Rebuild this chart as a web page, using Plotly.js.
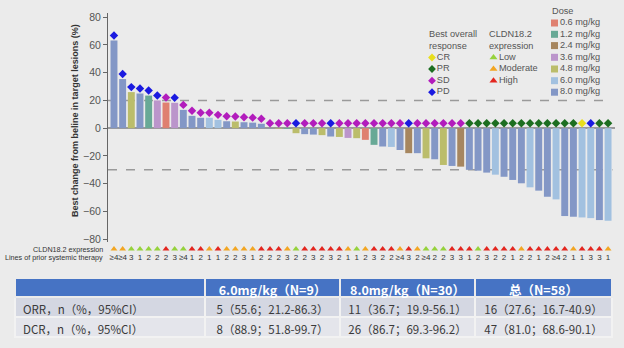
<!DOCTYPE html>
<html><head><meta charset="utf-8">
<script src="https://cdn.plot.ly/plotly-3.0.1.min.js"></script>
<style>html,body{margin:0;padding:0;background:#ebebeb;}#chart{width:624px;height:348px;}</style>
</head><body><div id="chart"></div>
<script>
// ---- data ----
const bestChange = [63.2, 35.4, 26, 25, 23.5, 20, 18.5, 18.3, 13.2, 8.9,
  7.5, 7.5, 6, 5, 4.8, 4.3, 4, 3.2, -0.2, -0.4,
  -0.6, -3.6, -4.3, -4.6, -5, -6, -6.3, -7, -7.2, -8.4,
  -12, -13.2, -13.5, -15.7, -18, -18, -21.7, -22.4, -26.5, -27.2,
  -27.7, -30, -30.6, -32, -33.5, -35, -37.3, -39.7, -42.6, -45,
  -49.4, -51.3, -63.3, -63.8, -64.3, -64.8, -66.2, -66.7];
const doseGroup = ['8.0','8.0','4.8','8.0','1.2','3.6','0.6','3.6','8.0','8.0',
  '8.0','6.0','6.0','8.0','4.8','8.0','8.0','8.0','8.0','4.8',
  '1.2','4.8','8.0','8.0','4.8','8.0','4.8','3.6','4.8','0.6',
  '1.2','8.0','6.0','8.0','2.4','8.0','4.8','8.0','4.8','8.0',
  '2.4','8.0','8.0','8.0','6.0','8.0','8.0','8.0','6.0','8.0',
  '8.0','6.0','8.0','8.0','6.0','6.0','8.0','6.0'];
const bestResponse = ['PD','PD','PD','PD','PD','PD','SD','PD','SD','SD',
  'SD','SD','SD','SD','SD','SD','SD','SD','SD','SD',
  'SD','PD','SD','SD','SD','PD','SD','SD','SD','SD',
  'SD','SD','SD','SD','PD','SD','SD','SD','SD','SD',
  'SD','PR','PR','PR','PR','PR','PR','PR','PR','PR',
  'PR','PR','PR','PR','CR','PD','PR','PR'];
const cldnExpression = ['Moderate','Moderate','Low','Low','Low','Low','High','Low','Low','High',
  'High','Moderate','High','Moderate','Moderate','Moderate','Moderate','High','High','High',
  'Moderate','Low','High','High','High','High','High','Moderate','Low','Moderate',
  'High','High','High','Moderate','High','Moderate','Low','Low','Low','High',
  'High','High','Low','High','High','High','High','Moderate','High','High',
  'High','High','High','Moderate','High','High','High','Moderate'];
const priorLines = ['≥4','≥4','3','1','2','2','2','3','≥4','1',
  '2','1','1','2','2','3','1','2','2','2',
  '3','2','2','3','2','3','2','1','1','2',
  '3','2','2','≥4','3','2','≥4','2','2','3',
  '3','1','2','3','2','2','1','2','2','1',
  '2','≥4','2','1','1','3','3','1'];
const doseLevels = ['0.6','1.2','2.4','3.6','4.8','6.0','8.0'];
const responseLevels = ['CR','PR','SD','PD'];
const cldnLevels = ['Low','Moderate','High'];
const yTicks = [-80,-60,-40,-20,0,20,40,60,80];

const tableHeader = ['', '6.0mg/kg（N=9）', '8.0mg/kg（N=30）', '总（N=58）'];
const rowLabels = ['ORR，n（%，95%CI）', 'DCR，n（%，95%CI）'];
const col60 = ['5（55.6；21.2-86.3）', '8（88.9；51.8-99.7）'];
const col80 = ['11（36.7；19.9-56.1）', '26（86.7；69.3-96.2）'];
const colAll = ['16（27.6；16.7-40.9）', '47（81.0；68.6-90.1）'];

// ---- styles ----
const doseColor = {'0.6':'#df8070','1.2':'#68a996','2.4':'#a6865f','3.6':'#bb95cb','4.8':'#bbbd6b','6.0':'#a2c1e0','8.0':'#8397c6'};
const respColor = {'CR':'#e8de1c','PR':'#1c6e20','SD':'#b21cbc','PD':'#1a1ae0'};
const cldnColor = {'Low':'#96d23c','Moderate':'#f2a623','High':'#e3261f'};
const SANS = '"Liberation Sans", Arial, sans-serif';
const CJK = '"Noto Sans CJK SC", "Noto Sans", sans-serif';
const px2paperX = px => (px - 15) / 600;
const px2paperY = px => (338 - px) / 325;

const patient = bestChange.map((_, i) => i + 1);
const traces = [];

doseLevels.forEach(d => {
  const idx = patient.filter((_, i) => doseGroup[i] === d);
  traces.push({type:'bar', x: idx, y: idx.map(p => bestChange[p-1]), width: 0.8,
    marker:{color: doseColor[d], line:{width:0}}, showlegend:false, hoverinfo:'skip'});
});
responseLevels.forEach(r => {
  const idx = patient.filter((_, i) => bestResponse[i] === r);
  traces.push({type:'scatter', mode:'markers', x: idx, y: idx.map(p => Math.max(bestChange[p-1], 0) + 3.6),
    marker:{symbol:'diamond', size:6.5, color: respColor[r]}, showlegend:false, cliponaxis:false, hoverinfo:'skip'});
});
// annotation rows below the waterfall (own small axis y3: 1.45 = expression row, 0.5 = lines row)
cldnLevels.forEach(c => {
  const idx = patient.filter((_, i) => cldnExpression[i] === c);
  traces.push({type:'scatter', mode:'markers', xaxis:'x', yaxis:'y3', x: idx, y: idx.map(() => 1.45),
    marker:{symbol:'triangle-up', size:6, color: cldnColor[c]}, showlegend:false, cliponaxis:false, hoverinfo:'skip'});
});
traces.push({type:'scatter', mode:'text', xaxis:'x', yaxis:'y3', x: patient, y: patient.map(() => 0.5), text: priorLines,
  textfont:{family: SANS, size:8, color:'#333'}, showlegend:false, cliponaxis:false, hoverinfo:'skip'});

// custom legend keys on pixel-like overlay axes
const legFont = {family: SANS, size:9.2, color:'#555'};
traces.push({type:'scatter', mode:'markers+text', xaxis:'x2', yaxis:'y2',
  x: responseLevels.map(() => 432), y: [57.5, 69, 80.7, 92.2], text: responseLevels, textposition:'middle right',
  marker:{symbol:'diamond', size:6, color: responseLevels.map(r => respColor[r])},
  textfont: legFont, showlegend:false, cliponaxis:false, hoverinfo:'skip'});
traces.push({type:'scatter', mode:'markers+text', xaxis:'x2', yaxis:'y2',
  x: cldnLevels.map(() => 493.5), y: [57.5, 69, 80.7], text: cldnLevels, textposition:'middle right',
  marker:{symbol:'triangle-up', size:7, color: cldnLevels.map(c => cldnColor[c])},
  textfont: legFont, showlegend:false, cliponaxis:false, hoverinfo:'skip'});
traces.push({type:'scatter', mode:'markers+text', xaxis:'x2', yaxis:'y2',
  x: doseLevels.map(() => 554.5), y: [23, 34.3, 45.6, 57.3, 69, 80.7, 92.2], text: doseLevels.map(d => d + ' mg/kg'), textposition:'middle right',
  marker:{symbol:'square', size:7, color: doseLevels.map(d => doseColor[d])},
  textfont: legFont, showlegend:false, cliponaxis:false, hoverinfo:'skip'});

// table
traces.push({type:'table', domain:{x:[0, 0.995], y:[0, 0.185]},
  columnwidth:[190,135,135,137],
  header:{values: tableHeader, height:19, align:'center',
    fill:{color:'#4673c4'}, line:{color:'#ebebeb', width:1.5},
    font:{family: CJK, size:12.5, color:'#ffffff', weight:'bold'}},
  cells:{values:[rowLabels, col60, col80, colAll], height:20,
    align:['left','center','center','center'],
    fill:{color:[['#d4d7e2','#e4e5eb'],['#d4d7e2','#e4e5eb'],['#d4d7e2','#e4e5eb'],['#d4d7e2','#e4e5eb']]},
    line:{color:'#f2f2f2', width:1.5},
    font:{family: CJK, size:11.5, color:'#3a3a3a'}}});

const layout = {
  width:624, height:348,
  margin:{l:15, r:9, t:13, b:10, pad:0},
  paper_bgcolor:'#ebebeb', plot_bgcolor:'#ebebeb',
  barmode:'overlay', showlegend:false,
  xaxis:{domain:[0.155, 1], range:[0.31, 58.8], showgrid:false, zeroline:false, showline:false,
    showticklabels:false, ticks:'', fixedrange:true},
  yaxis:{domain:[0.2954, 1], range:[-82, 83], tickvals: yTicks, ticks:'outside', ticklen:4, tickcolor:'#666',
    showline:true, linecolor:'#666', linewidth:1, showgrid:false,
    zeroline:true, zerolinecolor:'#9a9a9a', zerolinewidth:1.5,
    tickfont:{family: SANS, size:10.5, color:'#555'}},
  yaxis3:{domain:[0.2338, 0.2892], range:[0, 2], anchor:'x', visible:false, fixedrange:true},
  xaxis2:{overlaying:'x', range:[108, 615], visible:false, fixedrange:true},
  yaxis2:{overlaying:'y', range:[242, 13], visible:false, fixedrange:true},
  shapes:[
    {type:'line', xref:'x domain', yref:'y', x0:0, x1:0.99, y0:20, y1:20, layer:'below',
      line:{color:'#9a9a9a', width:1.5, dash:'dash'}},
    {type:'line', xref:'x domain', yref:'y', x0:0, x1:0.995, y0:-30, y1:-30, layer:'below',
      line:{color:'#9a9a9a', width:1.5, dash:'dash'}}
  ],
  annotations:[
    {text:'<b>Best change from beline in target lesions (%)</b>', textangle:-90, xref:'paper', yref:'paper',
      x:0.1, y:0.668, xanchor:'center', yanchor:'middle', showarrow:false,
      font:{family: SANS, size:9, color:'#333'}},
    {text:'CLDN18.2 expression', xref:'paper', yref:'paper', x:px2paperX(105), y:px2paperY(249), xanchor:'right', yanchor:'middle',
      showarrow:false, font:{family: SANS, size:7.2, color:'#333'}},
    {text:'Lines of prior systemic therapy', xref:'paper', yref:'paper', x:px2paperX(105), y:px2paperY(257.5), xanchor:'right', yanchor:'middle',
      showarrow:false, font:{family: SANS, size:7.2, color:'#333'}},
    {text:'Best overall<br>response', xref:'paper', yref:'paper', x:px2paperX(427), y:px2paperY(39.5), xanchor:'left', yanchor:'middle', align:'left',
      showarrow:false, font: legFont},
    {text:'CLDN18.2<br>expression', xref:'paper', yref:'paper', x:px2paperX(487), y:px2paperY(39.5), xanchor:'left', yanchor:'middle', align:'left',
      showarrow:false, font: legFont},
    {text:'Dose', xref:'paper', yref:'paper', x:px2paperX(550), y:px2paperY(11.5), xanchor:'left', yanchor:'middle', align:'left',
      showarrow:false, font: legFont}
  ]
};

Plotly.newPlot('chart', traces, layout, {displayModeBar:false, staticPlot:true});
</script>
</body></html>
